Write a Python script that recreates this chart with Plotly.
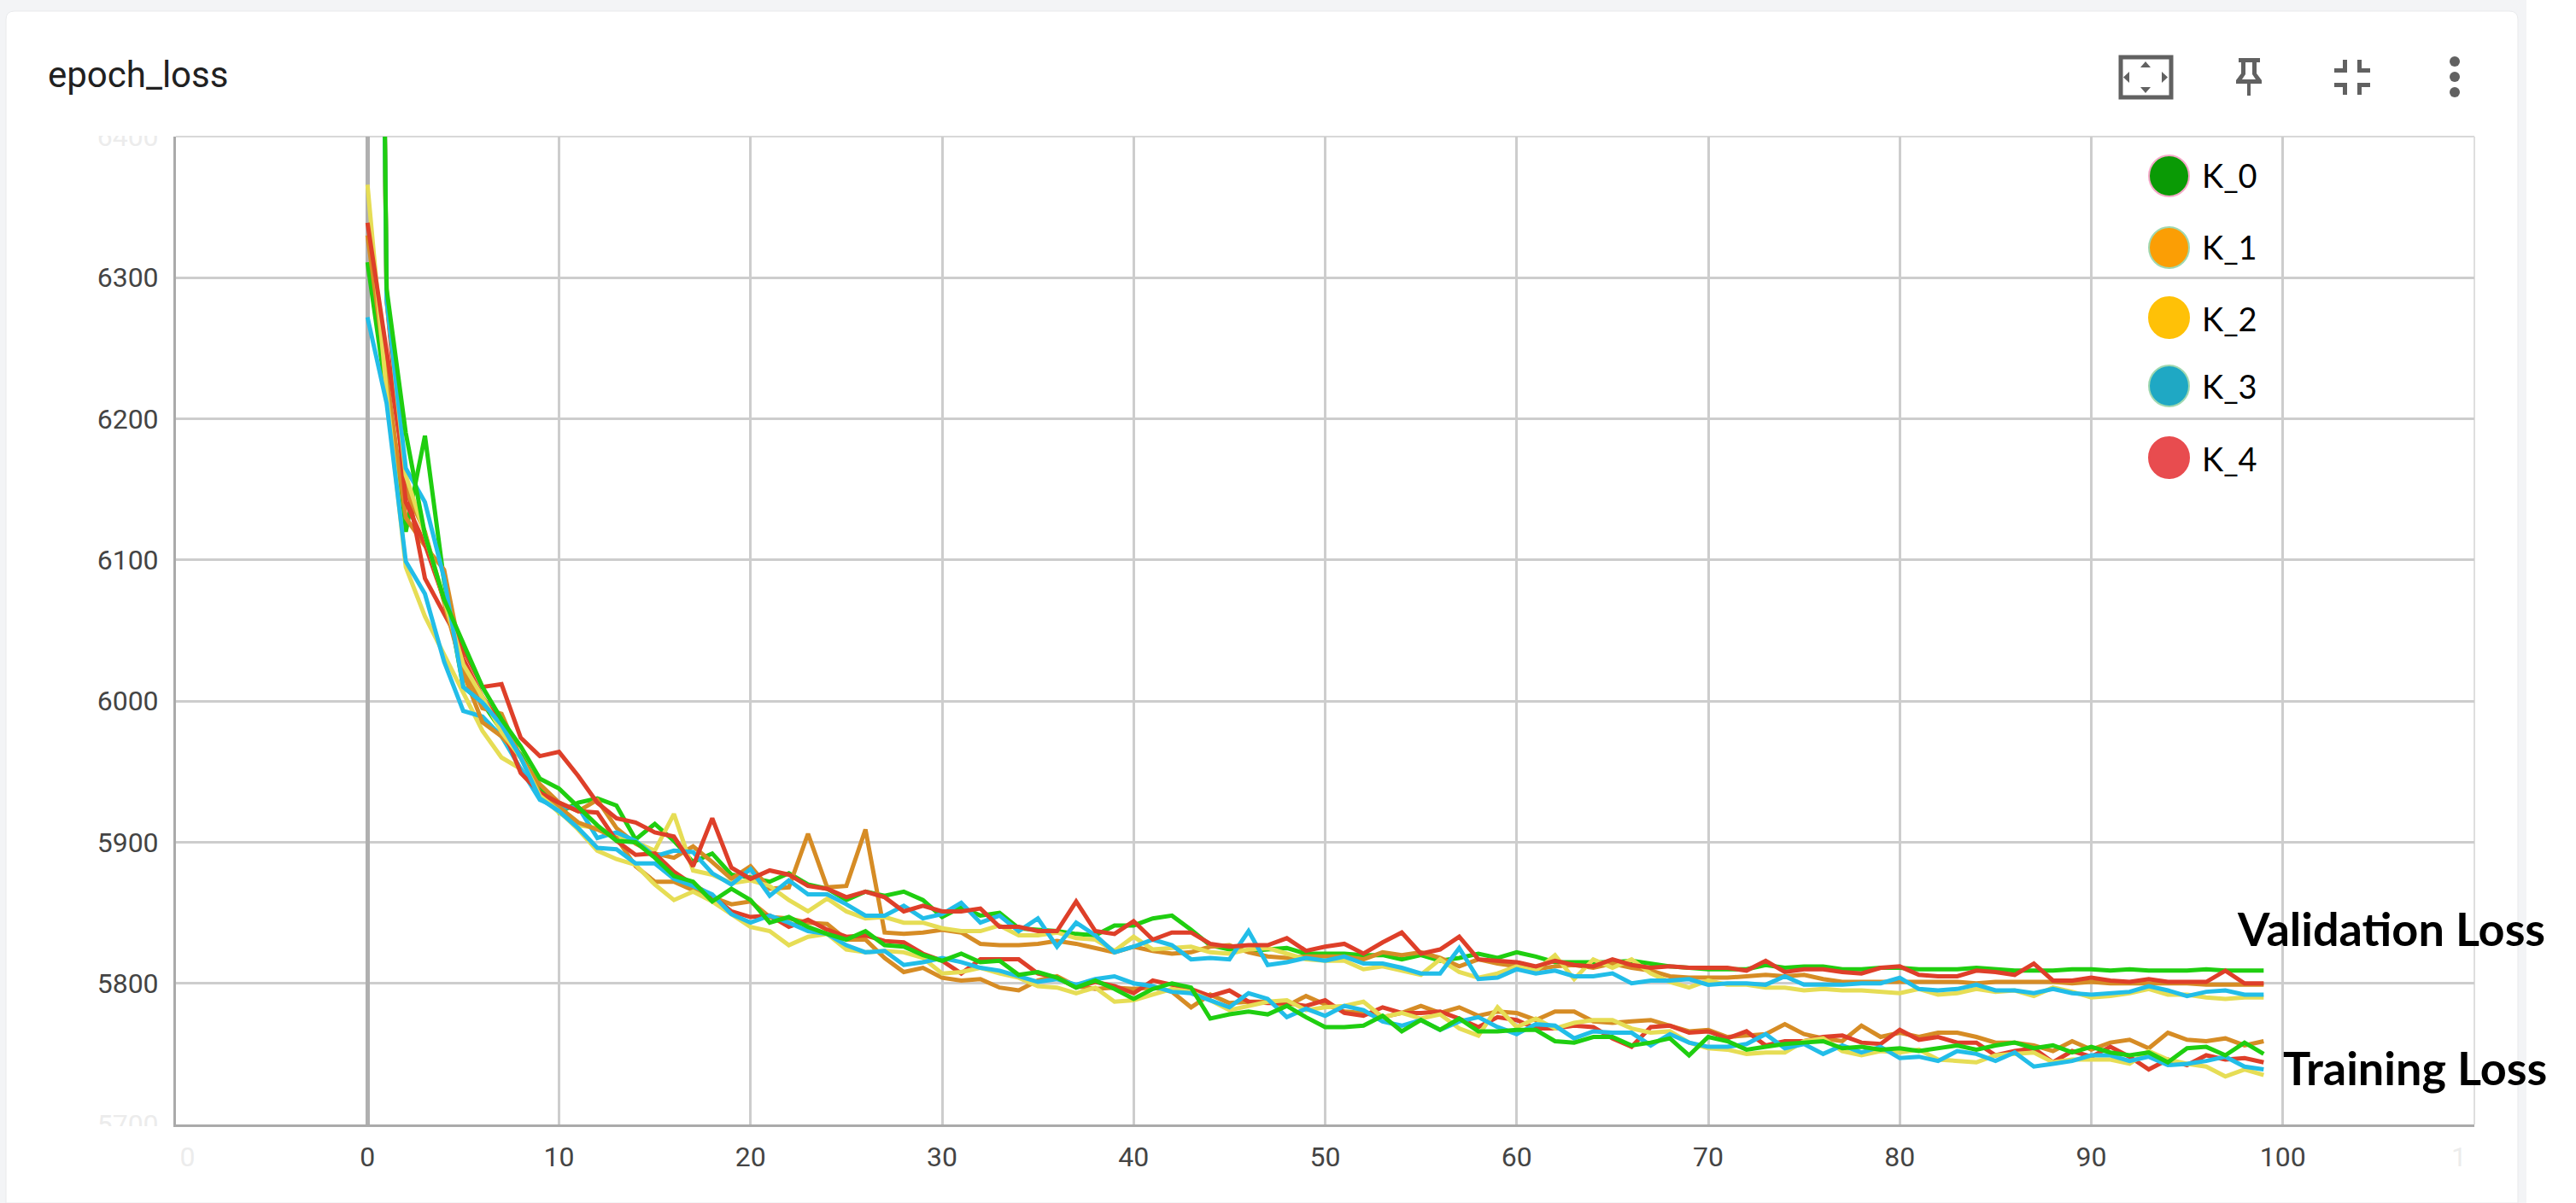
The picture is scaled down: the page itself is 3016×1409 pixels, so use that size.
import plotly.graph_objects as go

# ---------- data ----------
epochs = list(range(100))

val_k0 = [6311,6215,6120,6188,6085,6010,5999,5979,5962,5939,5921,
 5928,5931,5926,5902,5913,5901,5886,5892,5877,5875,5872,5878,5870,5867,5859,5865,5862,5865,5859,5847,
 5854,5848,5850,5839,5838,5837,5835,5834,5841,5841,5846,5848,5838,5827,5824,5823,5824,5825,5821,5821,
 5821,5820,5820,5817,5820,5816,5818,5821,5818,5822,5819,5815,5815,5815,5815,5816,5814,5812,5811,5810,
 5810,5810,5813,5811,5812,5812,5810,5810,5811,5811,5810,5810,5810,5811,5810,5809,5809,5809,5810,5810,
 5809,5810,5809,5809,5809,5810,5809,5809,5809]
val_k1 = [6330,6232,6130,6110,6093,6025,5995,5991,5960,5941,5928,
 5922,5930,5910,5899,5892,5889,5897,5886,5874,5883,5867,5868,5906,5868,5869,5909,5836,5835,5836,5838,
 5836,5828,5827,5827,5828,5830,5828,5825,5822,5826,5823,5821,5822,5826,5827,5822,5819,5818,5819,5819,
 5819,5817,5822,5820,5822,5818,5812,5817,5814,5812,5810,5812,5813,5811,5814,5811,5809,5805,5804,5804,
 5804,5805,5806,5805,5806,5803,5801,5801,5801,5801,5801,5801,5801,5800,5801,5801,5801,5801,5800,5801,
 5800,5800,5800,5800,5800,5799,5799,5799,5799]
val_k2 = [6366,6218,6095,6060,6033,6006,5979,5960,5952,5933,5921,
 5912,5910,5905,5900,5894,5920,5880,5877,5871,5873,5869,5859,5851,5860,5851,5846,5847,5843,5843,5839,
 5837,5837,5841,5834,5834,5836,5832,5831,5823,5833,5824,5825,5826,5822,5821,5824,5825,5821,5817,5816,
 5816,5810,5812,5809,5806,5817,5808,5804,5807,5812,5809,5820,5803,5817,5811,5817,5807,5801,5797,5802,
 5799,5799,5797,5797,5795,5796,5795,5795,5794,5793,5796,5792,5793,5796,5794,5795,5791,5797,5794,5790,
 5791,5793,5796,5792,5792,5790,5789,5790,5790]
val_k3 = [6272,6211,6099,6076,6028,5993,5989,5975,5952,5930,5924,
 5925,5903,5907,5901,5890,5894,5893,5878,5870,5881,5862,5873,5863,5863,5856,5848,5848,5855,5846,5849,
 5857,5843,5848,5837,5846,5826,5843,5834,5822,5826,5831,5827,5817,5818,5817,5837,5813,5815,5818,5816,
 5819,5814,5814,5811,5807,5807,5825,5803,5804,5810,5807,5809,5805,5805,5807,5800,5802,5802,5803,5799,
 5800,5800,5799,5805,5799,5799,5799,5800,5800,5804,5796,5795,5796,5799,5795,5795,5793,5796,5793,5792,
 5793,5794,5798,5795,5791,5794,5795,5792,5792]
val_k4 = [6339,6249,6157,6087,6062,6037,6010,6012,5974,5961,5964,
 5947,5928,5917,5914,5907,5904,5883,5917,5882,5874,5880,5877,5869,5867,5861,5865,5861,5851,5855,5851,
 5851,5853,5840,5840,5837,5837,5858,5837,5835,5844,5831,5836,5836,5828,5826,5827,5827,5832,5823,5826,
 5828,5821,5829,5836,5821,5824,5833,5817,5816,5815,5812,5816,5813,5812,5817,5813,5811,5812,5811,5811,
 5811,5809,5816,5808,5810,5810,5808,5807,5811,5812,5806,5805,5805,5809,5808,5806,5814,5802,5802,5804,
 5802,5801,5803,5801,5801,5801,5809,5800,5800]

train_k0 = [7500,6292,6190,6118,6072,6041,6010,5987,5968,5945,5938,
 5925,5912,5901,5900,5889,5876,5872,5858,5867,5859,5843,5847,5840,5835,5831,5837,5827,5826,5820,5816,
 5821,5815,5816,5806,5808,5804,5797,5802,5796,5789,5796,5800,5797,5775,5778,5780,5778,5784,5776,5769,
 5769,5770,5777,5766,5774,5767,5775,5766,5766,5767,5767,5759,5758,5762,5762,5756,5758,5761,5749,5762,
 5759,5753,5755,5757,5758,5759,5754,5755,5753,5754,5752,5754,5756,5753,5756,5758,5754,5756,5751,5755,
 5751,5749,5751,5744,5754,5755,5749,5758,5750]
train_k1 = [7450,6290,6150,6120,6070,6020,5985,5975,5960,5935,5925,
 5914,5909,5903,5883,5872,5872,5866,5861,5856,5858,5847,5846,5843,5842,5831,5831,5818,5808,5811,5804,
 5802,5803,5797,5795,5802,5805,5798,5796,5797,5796,5797,5794,5783,5792,5786,5787,5787,5784,5791,5785,
 5780,5779,5776,5779,5784,5779,5783,5777,5780,5779,5774,5780,5780,5773,5772,5773,5774,5770,5766,5767,
 5762,5763,5764,5771,5764,5761,5759,5770,5762,5765,5762,5765,5765,5762,5758,5758,5756,5752,5759,5753,
 5758,5760,5754,5765,5760,5759,5761,5756,5759]
train_k2 = [7480,6285,6160,6118,6072,6026,6003,5978,5960,5933,5922,
 5909,5894,5888,5884,5870,5859,5865,5858,5849,5840,5837,5827,5833,5835,5824,5822,5823,5822,5818,5807,
 5808,5811,5807,5804,5798,5797,5793,5797,5787,5788,5792,5796,5794,5788,5781,5784,5787,5788,5781,5783,
 5784,5787,5776,5779,5775,5778,5768,5763,5783,5769,5775,5768,5772,5774,5774,5768,5765,5766,5758,5754,
 5753,5750,5751,5751,5759,5761,5752,5749,5752,5751,5753,5746,5745,5744,5749,5750,5751,5744,5746,5746,
 5746,5743,5752,5746,5743,5741,5734,5739,5735]
train_k3 = [7520,6284,6165,6141,6087,6010,5999,5983,5960,5931,5922,
 5910,5896,5895,5885,5885,5874,5869,5863,5849,5843,5848,5843,5837,5835,5827,5822,5823,5813,5815,5818,
 5815,5811,5809,5805,5801,5803,5799,5803,5805,5800,5798,5794,5793,5788,5783,5793,5789,5776,5782,5777,
 5784,5781,5773,5770,5774,5767,5773,5776,5769,5764,5771,5770,5761,5766,5765,5765,5756,5764,5758,5755,
 5755,5757,5764,5754,5757,5750,5756,5751,5755,5747,5748,5745,5752,5750,5745,5751,5741,5743,5745,5749,
 5749,5745,5748,5742,5743,5745,5748,5741,5739]
train_k4 = [7490,6284,6141,6111,6072,6030,6003,5983,5949,5935,5928,
 5922,5921,5901,5891,5892,5879,5870,5862,5851,5847,5848,5840,5845,5838,5833,5834,5830,5829,5821,5816,
 5807,5817,5817,5817,5807,5804,5797,5801,5798,5793,5802,5799,5796,5791,5795,5787,5786,5786,5784,5788,
 5779,5777,5783,5779,5779,5780,5775,5769,5776,5774,5768,5768,5770,5769,5761,5755,5769,5770,5765,5766,
 5761,5766,5756,5759,5759,5762,5763,5758,5757,5767,5760,5762,5758,5758,5749,5752,5754,5744,5752,5748,
 5755,5748,5739,5746,5742,5749,5746,5747,5744]

x_ticks = list(range(-10, 120, 10))
x_labels = [str(v) for v in x_ticks]
y_ticks = list(range(5700, 6500, 100))
y_labels = [str(v) for v in y_ticks]
fold_names = ["K_0", "K_1", "K_2", "K_3", "K_4"]

# ---------- styling ----------
W, H = 3016, 1409
L, R, T, B = 206, 2897, 160, 1317
LINE = {"K_0": "#1fce10", "K_1": "#d68c25", "K_2": "#e6dd55", "K_3": "#22bde8", "K_4": "#de3f29"}
FILL = ["#0a9a05", "#fb9e05", "#ffc107", "#1fa8c4", "#e84c4f"]
RING = ["#f5a8c8", "#a0d8b0", "#ffc107", "#a0d8b0", "#e84c4f"]
LEG_Y = [206, 290, 372, 452, 536]
LEG_TEXT_Y = [205, 289, 373, 452, 537]
ICON = "#616161"
FAINT = "#ececec"
DARK = "#444444"


def px(x):
    return (x - L) / (R - L)


def py(y):
    return (B - y) / (B - T)


def path(points, close=True):
    s = "M " + " L ".join(f"{px(a):.5f},{py(b):.5f}" for a, b in points)
    return s + (" Z" if close else "")


def rect(x0, y0, x1, y1, color, layer="below", line=None, lw=0):
    return dict(type="rect", xref="paper", yref="paper", x0=px(x0), x1=px(x1), y0=py(y0), y1=py(y1),
                fillcolor=color, line=dict(color=line or color, width=lw), layer=layer)


def poly(points, color, layer="above", close=True, lw=0, fill=True):
    return dict(type="path", xref="paper", yref="paper", path=path(points, close),
                fillcolor=color if fill else "rgba(0,0,0,0)",
                line=dict(color=color, width=lw), layer=layer)


fig = go.Figure()
val_sets = [val_k0, val_k1, val_k2, val_k3, val_k4]
train_sets = [train_k1, train_k4, train_k2, train_k3, train_k0]
train_names = ["K_1", "K_4", "K_2", "K_3", "K_0"]
for name, vals in zip(fold_names, val_sets):
    fig.add_trace(go.Scatter(x=epochs, y=vals, mode="lines", name=name + " validation",
                             line=dict(color=LINE[name], width=5), hoverinfo="skip", showlegend=False))
for name, vals in zip(train_names, train_sets):
    fig.add_trace(go.Scatter(x=epochs, y=vals, mode="lines", name=name + " training",
                             line=dict(color=LINE[name], width=5), hoverinfo="skip", showlegend=False))

shapes = []
# page background and white card
shapes.append(rect(0, 0, 2958, H, "#f3f4f6"))
r = 10
shapes.append(dict(type="path", xref="paper", yref="paper",
                   path=(f"M {px(7):.5f},{py(H):.5f} L {px(7):.5f},{py(13 + r):.5f} "
                         f"Q {px(7):.5f},{py(13):.5f} {px(7 + r):.5f},{py(13):.5f} "
                         f"L {px(2948 - r):.5f},{py(13):.5f} "
                         f"Q {px(2948):.5f},{py(13):.5f} {px(2948):.5f},{py(13 + r):.5f} "
                         f"L {px(2948):.5f},{py(H):.5f} Z"),
                   fillcolor="#ffffff", line=dict(color="#e9eaec", width=1), layer="below"))
# top and right plot border
shapes.append(dict(type="line", xref="paper", yref="paper", x0=0, x1=1, y0=1, y1=1,
                   line=dict(color="#d8d8d8", width=2), layer="below"))
shapes.append(dict(type="line", xref="paper", yref="paper", x0=1, x1=1, y0=0, y1=1,
                   line=dict(color="#dedede", width=2), layer="below"))
# masks that clip the faded edge labels
shapes.append(rect(100, 125, 203, T - 1, "#ffffff", "above"))
shapes.append(rect(100, B + 2, 203, B + 30, "#ffffff", "above"))
shapes.append(rect(150, B + 4, 212, B + 60, "#ffffff", "above"))
shapes.append(rect(2885, B + 4, 2946, B + 60, "#ffffff", "above"))

# toolbar icons
shapes.append(dict(type="rect", xref="paper", yref="paper", x0=px(2483), x1=px(2542), y0=py(67), y1=py(114),
                   fillcolor="rgba(0,0,0,0)", line=dict(color=ICON, width=5), layer="above"))
shapes.append(poly([(2506, 79), (2518, 79), (2512, 72)], ICON))
shapes.append(poly([(2506, 102), (2518, 102), (2512, 109)], ICON))
shapes.append(poly([(2493, 84), (2493, 97), (2486, 90.5)], ICON))
shapes.append(poly([(2531, 84), (2531, 97), (2538, 90.5)], ICON))
# pin
shapes.append(poly([(2621, 68), (2646, 68), (2646, 73), (2642, 73), (2642, 86), (2648, 94), (2648, 98),
                    (2635, 98), (2635, 112), (2631, 112), (2631, 98), (2618, 98), (2618, 94), (2624, 86),
                    (2624, 73), (2621, 73)], ICON))
shapes.append(poly([(2629, 73), (2637, 73), (2637, 87), (2641, 93), (2625, 93), (2629, 87)], "#ffffff"))
# collapse
for pts in ([(2733, 80), (2743, 80), (2743, 70), (2748, 70), (2748, 85), (2733, 85)],
            [(2775, 80), (2765, 80), (2765, 70), (2760, 70), (2760, 85), (2775, 85)],
            [(2733, 97), (2748, 97), (2748, 111), (2743, 111), (2743, 102), (2733, 102)],
            [(2775, 97), (2760, 97), (2760, 111), (2765, 111), (2765, 102), (2775, 102)]):
    shapes.append(poly(pts, ICON))
# three dots
for cy in (72, 90, 108):
    shapes.append(dict(type="circle", xref="paper", yref="paper", x0=px(2868), x1=px(2880),
                       y0=py(cy + 6), y1=py(cy - 6), fillcolor=ICON, line=dict(color=ICON, width=0), layer="above"))
# legend dots
for cy, f, ring in zip(LEG_Y, FILL, RING):
    shapes.append(dict(type="circle", xref="paper", yref="paper", x0=px(2516), x1=px(2563),
                       y0=py(cy + 24), y1=py(cy - 24), fillcolor=f, line=dict(color=ring, width=2), layer="above"))

ann = []
for name, cy in zip(fold_names, LEG_TEXT_Y):
    ann.append(dict(xref="paper", yref="paper", x=px(2576), y=py(cy), text=name, showarrow=False,
                    xanchor="left", yanchor="middle", font=dict(family="Lato", size=38, color="#000000")))
ann.append(dict(xref="paper", yref="paper", x=px(54), y=py(87), text="epoch_loss", showarrow=False,
                xanchor="left", yanchor="middle", font=dict(family="Roboto", size=42, color="#212121")))
ann.append(dict(xref="paper", yref="paper", x=px(2617), y=py(1087), text="Validation Loss", showarrow=False,
                xanchor="left", yanchor="middle", font=dict(family="Lato", size=54, color="#000000", weight="bold")))
ann.append(dict(xref="paper", yref="paper", x=px(2671), y=py(1250), text="Training Loss", showarrow=False,
                xanchor="left", yanchor="middle", font=dict(family="Lato", size=54, color="#000000", weight="bold")))


def styled(label, faint):
    return f'<span style="color:{FAINT}">{label}</span>' if faint else label


fig.update_layout(
    width=W, height=H, autosize=False,
    margin=dict(l=L, r=W - R, t=T, b=H - B, pad=0),
    paper_bgcolor="#ffffff", plot_bgcolor="#ffffff",
    showlegend=False, shapes=shapes, annotations=ann,
    font=dict(family="Roboto", size=32, color=DARK),
    xaxis=dict(range=[-10, 110], tickmode="array", tickvals=x_ticks,
               ticktext=[styled(t, v in (-10, 110)) for t, v in zip(x_labels, x_ticks)],
               showgrid=True, gridcolor="#cdcdcd", gridwidth=3, zeroline=True, zerolinecolor="#b0b0b0",
               zerolinewidth=5, showline=True, linecolor="#aaaaaa", linewidth=3, ticks="",
               ticklabelstandoff=8, tickangle=0, tickfont=dict(family="Roboto", size=32, color=DARK)),
    yaxis=dict(range=[5700, 6400], tickmode="array", tickvals=y_ticks,
               ticktext=[styled(t, v in (5700, 6400)) for t, v in zip(y_labels, y_ticks)],
               showgrid=True, gridcolor="#cdcdcd", gridwidth=3, zeroline=False,
               showline=True, linecolor="#aaaaaa", linewidth=3, ticks="",
               ticklabelstandoff=11, tickfont=dict(family="Roboto", size=32, color=DARK)),
)

fig.write_html("out.html", config={"displayModeBar": False},
               post_script="document.body.style.margin='0';document.documentElement.style.overflow='hidden';")
